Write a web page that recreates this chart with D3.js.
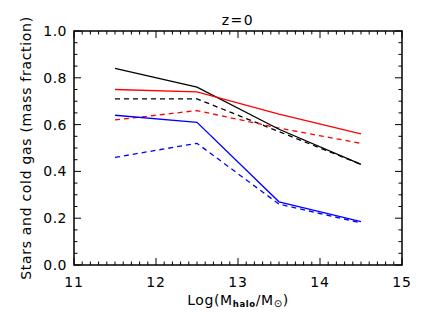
<!DOCTYPE html>
<html>
<head>
<meta charset="utf-8">
<script src="https://cdn.jsdelivr.net/npm/d3@7"></script>
<style>
  body { margin: 0; background: #fff; }
  text { font-family: "DejaVu Sans", sans-serif; fill: #000; }
</style>
</head>
<body>
<svg width="437" height="312"></svg>
<script>
// halo mass bins
const logMhalo = [11.5, 12.5, 13.5, 14.5];

// mass fractions per model
const blackSolid  = [0.84, 0.76, 0.58, 0.43];
const blackDashed = [0.71, 0.71, 0.57, 0.43];
const redSolid    = [0.75, 0.74, 0.645, 0.56];
const redDashed   = [0.62, 0.66, 0.585, 0.52];
const blueSolid   = [0.64, 0.61, 0.27, 0.185];
const blueDashed  = [0.46, 0.52, 0.26, 0.18];

const xTicks = [11, 12, 13, 14, 15];
const yTicks = [0.0, 0.2, 0.4, 0.6, 0.8, 1.0];

const series = [
  {vals: blackDashed, color: "#000", dash: "5,4"},
  {vals: redDashed, color: "#f00", dash: "5,4"},
  {vals: blueDashed, color: "#00f", dash: "5,4"},
  {vals: blackSolid, color: "#000", dash: null},
  {vals: redSolid, color: "#f00", dash: null},
  {vals: blueSolid, color: "#00f", dash: null},
];

const svg = d3.select("svg");
const L = 74, R = 402, T = 31, B = 265;

const x = d3.scaleLinear().domain([11, 15]).range([L, R]);
const y = d3.scaleLinear().domain([0, 1]).range([B, T]);

// frame
svg.append("rect")
  .attr("x", L).attr("y", T)
  .attr("width", R - L).attr("height", B - T)
  .attr("fill", "none").attr("stroke", "#000").attr("stroke-width", 1.5);

// ticks, inward on all four sides
const xMinor = d3.range(110, 151).map(d => d / 10);
const yMinor = d3.range(0, 21).map(d => d / 20);
const isMajorX = v => Math.abs(v - Math.round(v)) < 1e-6;
const isMajorY = v => Math.abs(v * 5 - Math.round(v * 5)) < 1e-6;

const tk = svg.append("g").attr("stroke", "#000").attr("stroke-width", 1);
xMinor.forEach(v => {
  const len = isMajorX(v) ? 7 : 3.5;
  tk.append("line").attr("x1", x(v)).attr("x2", x(v)).attr("y1", B).attr("y2", B - len);
  tk.append("line").attr("x1", x(v)).attr("x2", x(v)).attr("y1", T).attr("y2", T + len);
});
yMinor.forEach(v => {
  const len = isMajorY(v) ? 7 : 3.5;
  tk.append("line").attr("x1", L).attr("x2", L + len).attr("y1", y(v)).attr("y2", y(v));
  tk.append("line").attr("x1", R).attr("x2", R - len).attr("y1", y(v)).attr("y2", y(v));
});

// tick labels
svg.selectAll(".xl").data(xTicks).enter().append("text")
  .attr("x", d => x(d)).attr("y", 287)
  .attr("text-anchor", "middle").attr("font-size", 14).attr("letter-spacing", 0.8)
  .text(d => d);
svg.selectAll(".yl").data(yTicks).enter().append("text")
  .attr("x", 67).attr("y", d => y(d) + 5)
  .attr("text-anchor", "end").attr("font-size", 14).attr("letter-spacing", 0.5)
  .text(d => d.toFixed(1));

// lines
const line = d3.line().x((d, i) => x(logMhalo[i])).y(d => y(d));
svg.selectAll(".ser").data(series).enter().append("path")
  .attr("d", d => line(d.vals))
  .attr("fill", "none")
  .attr("stroke", d => d.color)
  .attr("stroke-width", 1.3)
  .attr("stroke-dasharray", d => d.dash);

// titles
svg.append("text").attr("x", 238).attr("y", 25)
  .attr("text-anchor", "middle").attr("font-size", 14).attr("letter-spacing", 1.5).text("z=0");

const xt = svg.append("text").attr("x", 238).attr("y", 305)
  .attr("text-anchor", "middle").attr("font-size", 14).attr("letter-spacing", 0.6);
xt.append("tspan").text("Log(M");
xt.append("tspan").attr("font-size", 8.5).attr("font-weight", "bold").attr("dy", 2).text("halo");
xt.append("tspan").attr("dy", -2).text("/M");
xt.append("tspan").attr("font-size", 10).attr("dy", 2).text("\u2299");
xt.append("tspan").attr("dy", -2).text(")");

svg.append("text")
  .attr("transform", `translate(31,${(T + B) / 2}) rotate(-90)`)
  .attr("text-anchor", "middle").attr("font-size", 14).attr("letter-spacing", 0.7)
  .text("Stars and cold gas (mass fraction)");
</script>
</body>
</html>
